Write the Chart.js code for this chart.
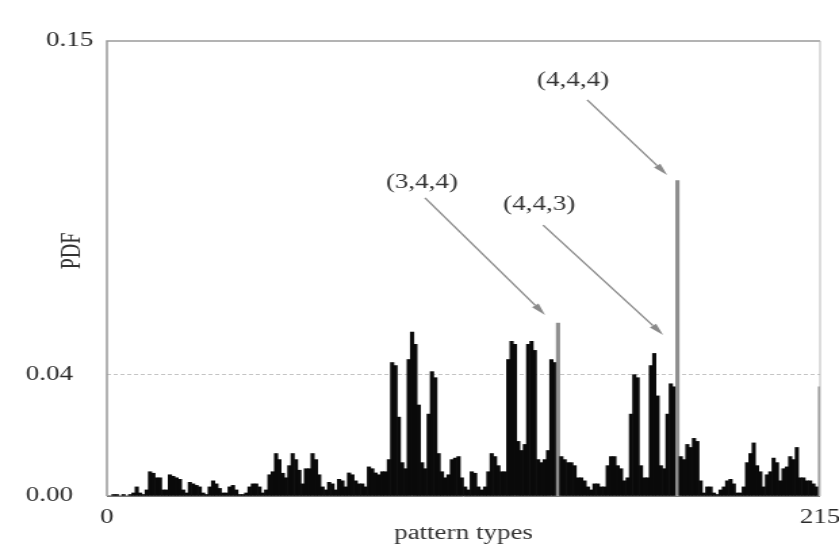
<!DOCTYPE html>
<html>
<head>
<meta charset="utf-8">
<script src="https://cdn.jsdelivr.net/npm/chart.js@4.4.1/dist/chart.umd.min.js"></script>
<style>
  html, body { margin: 0; padding: 0; background: #fff; }
</style>
</head>
<body>
<!-- the original figure is stretched sideways, so the canvas is drawn narrow and scaled up -->
<canvas id="pdf" width="620" height="554" style="display:block;width:839px;height:554px"></canvas>
<script>
// pattern type index = 36a + 6b + c, a,b,c in 0..5
const patternTypes = Array.from({ length: 216 }, (_, i) => i);

const pdfValues = [
  // a = 0
  0, 0, 0.0005, 0.0005, 0, 0.0005,
  0, 0.0005, 0.001, 0.003, 0.001, 0.0005,
  0.002, 0.008, 0.0075, 0.006, 0.006, 0.002,
  0.002, 0.007, 0.0065, 0.006, 0.0055, 0.002,
  0.001, 0.0045, 0.004, 0.0035, 0.003, 0.001,
  0.0005, 0.003, 0.005, 0.004, 0.0025, 0.001,
  // a = 1
  0.001, 0.003, 0.0035, 0.002, 0.0005, 0.0005,
  0.001, 0.003, 0.004, 0.004, 0.003, 0.001,
  0.002, 0.007, 0.008, 0.014, 0.012, 0.0075,
  0.006, 0.010, 0.014, 0.012, 0.0085, 0.004,
  0.009, 0.009, 0.014, 0.012, 0.007, 0.003,
  0.002, 0.0045, 0.004, 0.002, 0.0055, 0.005,
  // a = 2
  0.003, 0.0076, 0.007, 0.005, 0.004, 0.004,
  0.003, 0.0096, 0.009, 0.0076, 0.007, 0.008,
  0.008, 0.012, 0.044, 0.043, 0.026, 0.011,
  0.009, 0.045, 0.054, 0.050, 0.030, 0.011,
  0.009, 0.027, 0.041, 0.039, 0.014, 0.008,
  0.006, 0.007, 0.012, 0.0125, 0.013, 0.006,
  // a = 3
  0.003, 0.002, 0.008, 0.0075, 0.003, 0.002,
  0.003, 0.008, 0.014, 0.013, 0.010, 0.008,
  0.008, 0.045, 0.051, 0.050, 0.018, 0.015,
  0.017, 0.050, 0.051, 0.048, 0.012, 0.011,
  0.012, 0.015, 0.045, 0.044, 0.057, 0.013,
  0.012, 0.011, 0.011, 0.010, 0.006, 0.006,
  // a = 4
  0.005, 0.003, 0.002, 0.004, 0.004, 0.003,
  0.003, 0.010, 0.013, 0.013, 0.010, 0.009,
  0.005, 0.006, 0.027, 0.040, 0.039, 0.010,
  0.006, 0.006, 0.043, 0.047, 0.033, 0.010,
  0.009, 0.027, 0.037, 0.036, 0.104, 0.013,
  0.012, 0.017, 0.016, 0.019, 0.018, 0.005,
  // a = 5
  0.001, 0.003, 0.003, 0.001, 0.0005, 0.002,
  0.003, 0.005, 0.0055, 0.004, 0.001, 0.001,
  0.003, 0.011, 0.014, 0.0175, 0.010, 0.008,
  0.003, 0.007, 0.008, 0.0125, 0.011, 0.005,
  0.009, 0.0096, 0.013, 0.012, 0.016, 0.006,
  0.006, 0.005, 0.005, 0.004, 0.003, 0.036
];

const greyBars = [136, 172, 215];
const xTicks = [0, 215];
const yTicks = [0, 0.04, 0.15];

const noteLabels = ['(3,4,4)', '(4,4,3)', '(4,4,4)'];
const notePos = [[95.0, 0.1032], [130.3, 0.0959], [140.5, 0.1368]];
const arrowFrom = [[95.9, 0.0983], [131.5, 0.0893], [144.8, 0.1306]];
const arrowTo = [[132.1, 0.0597], [167.7, 0.0531], [168.9, 0.1058]];
const yTitle = 'PDF';
const yTitleAt = 0.0808;

const serif = "'Liberation Serif', 'DejaVu Serif', serif";

const framePlugin = {
  id: 'frame',
  afterDatasetsDraw(chart) {
    const { ctx, chartArea: a, scales: { x, y } } = chart;
    ctx.save();
    ctx.strokeStyle = '#9a9a9a';
    ctx.lineWidth = 1.5;
    ctx.beginPath();
    ctx.moveTo(a.left, a.bottom);
    ctx.lineTo(a.left, a.top);
    ctx.lineTo(a.right, a.top);
    ctx.stroke();
    ctx.strokeStyle = '#b8b8b8';
    ctx.lineWidth = 1;
    ctx.beginPath();
    ctx.moveTo(a.right, a.top);
    ctx.lineTo(a.right, a.bottom);
    ctx.stroke();
    ctx.strokeStyle = '#777';
    ctx.beginPath();
    ctx.moveTo(a.left, a.bottom + 0.5);
    ctx.lineTo(a.right, a.bottom + 0.5);
    ctx.stroke();

    ctx.font = '20px ' + serif;
    ctx.textAlign = 'center';
    ctx.textBaseline = 'middle';

    // y axis title
    ctx.save();
    ctx.fillStyle = '#333';
    ctx.translate(a.left - 25, y.getPixelForValue(yTitleAt));
    ctx.rotate(-Math.PI / 2);
    ctx.fillText(yTitle, 0, 0);
    ctx.restore();

    // labels and arrows
    noteLabels.forEach((t, i) => {
      ctx.fillStyle = '#333';
      ctx.fillText(t, x.getPixelForValue(notePos[i][0]), y.getPixelForValue(notePos[i][1]));
      const x0 = x.getPixelForValue(arrowFrom[i][0]), y0 = y.getPixelForValue(arrowFrom[i][1]);
      const x1 = x.getPixelForValue(arrowTo[i][0]), y1 = y.getPixelForValue(arrowTo[i][1]);
      const ang = Math.atan2(y1 - y0, x1 - x0);
      const len = 12, half = 3;
      const bx = x1 - len * Math.cos(ang), by = y1 - len * Math.sin(ang);
      ctx.strokeStyle = '#8a8a8a';
      ctx.lineWidth = 1.4;
      ctx.beginPath();
      ctx.moveTo(x0, y0);
      ctx.lineTo(bx, by);
      ctx.stroke();
      ctx.fillStyle = '#8a8a8a';
      ctx.beginPath();
      ctx.moveTo(x1, y1);
      ctx.lineTo(bx + half * Math.sin(ang), by - half * Math.cos(ang));
      ctx.lineTo(bx - half * Math.sin(ang), by + half * Math.cos(ang));
      ctx.closePath();
      ctx.fill();
    });
    ctx.restore();
  }
};

const ctx = document.getElementById('pdf').getContext('2d');
new Chart(ctx, {
  type: 'bar',
  data: {
    labels: patternTypes,
    datasets: [{
      data: pdfValues,
      backgroundColor: c => greyBars.includes(c.dataIndex) ? '#8e8e8e' : '#0a0a0a',
      borderWidth: 0,
      barPercentage: 1.0,
      categoryPercentage: 1.0
    }]
  },
  options: {
    responsive: false,
    animation: false,
    devicePixelRatio: 1,
    layout: { padding: { top: 41, right: 14, bottom: 0, left: 0 } },
    plugins: { legend: { display: false }, tooltip: { enabled: false } },
    scales: {
      x: {
        type: 'category',
        offset: false,
        grid: { display: false, drawTicks: false },
        border: { display: false },
        ticks: {
          autoSkip: false,
          maxRotation: 0,
          padding: 10,
          color: '#2a2a2a',
          font: { family: serif, size: 20 },
          callback: (v, i) => xTicks.includes(i) ? String(patternTypes[i]) : ''
        },
        title: {
          display: true,
          text: 'pattern types',
          color: '#333',
          font: { family: serif, size: 20 },
          padding: { top: 0, bottom: 8 }
        },
        afterFit: s => { s.height = 58; s.paddingRight = 0; s.paddingLeft = 0; }
      },
      y: {
        min: 0,
        max: 0.15,
        afterBuildTicks: s => { s.ticks = yTicks.map(v => ({ value: v })); },
        grid: {
          drawTicks: false,
          color: c => (c.tick && c.tick.value === 0.04) ? '#c4c4c4' : 'rgba(0,0,0,0)'
        },
        border: { display: false, dash: [3, 2] },
        ticks: {
          padding: 10,
          color: '#2a2a2a',
          font: { family: serif, size: 20 },
          callback: v => v === 0.15 ? v.toFixed(2) : v.toFixed(2) + '   '
        },
        afterFit: s => { s.width = 79; }
      }
    }
  },
  plugins: [framePlugin]
});
</script>
</body>
</html>
